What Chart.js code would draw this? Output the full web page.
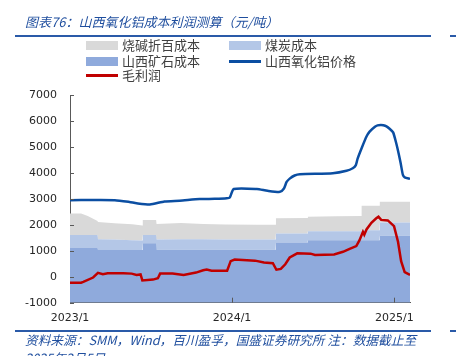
<!DOCTYPE html>
<html><head><meta charset="utf-8">
<script src="https://cdn.jsdelivr.net/npm/chart.js@4.4.1/dist/chart.umd.min.js"></script>
<style>
html,body{margin:0;padding:0;background:#fff;width:456px;height:356px;overflow:hidden;}
#wrap{position:relative;width:456px;height:356px;}
#c{position:absolute;left:0;top:0;}
.t{position:absolute;font-family:"Noto Sans CJK SC","Noto Sans",sans-serif;white-space:nowrap;line-height:16px;}
.title{left:25px;top:14px;font-size:13px;color:#1f4e9e;font-style:italic;}
.src{left:25px;font-size:12.7px;color:#1f4e9e;font-style:italic;}
.rule{position:absolute;height:2px;background:#2a5aa8;}
.lg{font-size:13px;color:#404040;}
.sw{position:absolute;width:32px;}
</style></head>
<body><div id="wrap">
<canvas id="c" width="456" height="356"></canvas>
<div class="t title">图表76：山西氧化铝成本利润测算（元/吨）</div>
<div class="rule" style="left:15px;top:35px;width:416px;"></div>
<div class="rule" style="left:450px;top:35px;width:6px;"></div>

<div class="sw" style="left:86px;top:41px;height:9px;background:#d9d9d9;"></div>
<div class="t lg" style="left:122px;top:37px;">烧碱折百成本</div>
<div class="sw" style="left:229px;top:41px;height:9px;background:#b4c7e7;"></div>
<div class="t lg" style="left:265px;top:37px;">煤炭成本</div>
<div class="sw" style="left:86px;top:56.5px;height:9px;background:#8faadc;"></div>
<div class="t lg" style="left:122px;top:52.5px;">山西矿石成本</div>
<div class="sw" style="left:229px;top:59.5px;height:3px;background:#0b4ea2;"></div>
<div class="t lg" style="left:265px;top:52.5px;">山西氧化铝价格</div>
<div class="sw" style="left:86px;top:74px;height:3px;background:#c00000;"></div>
<div class="t lg" style="left:122px;top:67px;">毛利润</div>

<div class="rule" style="left:15px;top:330px;width:416px;"></div>
<div class="rule" style="left:450px;top:330px;width:6px;"></div>
<div class="t src" style="top:332px;">资料来源：SMM，Wind，百川盈孚，国盛证券研究所 注：数据截止至</div>
<div class="t src" style="top:350px;">2025年2月5日</div>
</div>
<script>
// x values: days since 2023-01-01
const xTickDays = [0, 365, 731];
const xTickLabels = ['2023/1', '2024/1', '2025/1'];
const yTicks = [-1000, 0, 1000, 2000, 3000, 4000, 5000, 6000, 7000];

const priceDays = [0,101,134,150,180,213,247,292,326,353,360,369,421,445,473,482,488,495,506,518,592,623,637,644,648,657,668,675,687,693,700,706,713,720,728,735,741,745,750,754,766];
const priceVals = [2950,2950,2880,2830,2780,2900,2930,2990,3000,3020,3050,3380,3380,3310,3270,3400,3650,3780,3900,3950,3985,4080,4180,4300,4550,4950,5400,5590,5780,5830,5845,5835,5790,5700,5560,5140,4700,4370,3920,3830,3770];

const profitDays = [0,25,30,52,63,74,85,120,139,150,159,163,187,198,203,231,256,284,300,308,319,354,362,371,417,437,457,465,475,485,495,512,542,552,595,615,630,645,652,660,663,668,679,690,695,701,716,730,739,746,754,766];
const profitVals = [-230,-230,-200,-30,150,95,130,135,120,65,90,-140,-110,-60,120,120,70,160,250,280,230,230,600,660,620,550,520,270,300,480,740,900,890,840,860,960,1070,1180,1400,1730,1620,1820,2080,2250,2310,2190,2170,1950,1350,600,180,70];

const costDays = [0,25,40,62,63,100,140,163,164,194,195,250,300,350,420,463,464,535,536,600,656,657,697,698,766];
const oreCost = [1110,1110,1110,1110,1030,1030,1030,1030,1290,1290,1040,1040,1040,1040,1040,1040,1320,1320,1410,1410,1410,1410,1410,1575,1575];
const coalCost = [498,498,498,498,410,400,380,370,318,318,390,400,400,390,390,390,350,350,340,340,340,380,380,515,515];
const causticCost = [832,832,732,542,670,630,610,570,582,582,600,630,590,580,570,570,580,590,560,580,590,940,940,800,800];

const pts = (xs, ys) => xs.map((x, i) => ({x: x, y: ys[i]}));

const tickPlugin = {
  id: 'innerTicks',
  afterDraw(chart) {
    const ctx = chart.ctx, a = chart.chartArea, xs = chart.scales.x, ys = chart.scales.y;
    ctx.save();
    ctx.strokeStyle = '#595959';
    ctx.lineWidth = 1;
    ctx.beginPath();
    yTicks.forEach(v => {
      const py = Math.round(ys.getPixelForValue(v)) + 0.5;
      ctx.moveTo(a.left, py); ctx.lineTo(a.left + 4, py);
    });
    xTickDays.slice(1).forEach(d => {
      const px = Math.round(xs.getPixelForValue(d)) + 0.5;
      ctx.moveTo(px, a.bottom); ctx.lineTo(px, a.bottom - 5);
    });
    ctx.stroke();
    ctx.restore();
  }
};

const font = {family: 'DejaVu Sans', size: 11};
new Chart(document.getElementById('c'), {
  type: 'line',
  data: {
    datasets: [
      {label: '山西矿石成本', data: pts(costDays, oreCost), backgroundColor: '#8faadc', borderWidth: 0, pointRadius: 0, fill: 'start', stack: 'cost', order: 2},
      {label: '煤炭成本', data: pts(costDays, coalCost), backgroundColor: '#b4c7e7', borderWidth: 0, pointRadius: 0, fill: '-1', stack: 'cost', order: 2},
      {label: '烧碱折百成本', data: pts(costDays, causticCost), backgroundColor: '#d9d9d9', borderWidth: 0, pointRadius: 0, fill: '-1', stack: 'cost', order: 2},
      {label: '山西氧化铝价格', data: pts(priceDays, priceVals), borderColor: '#0b4ea2', borderWidth: 2.5, pointRadius: 0, fill: false, stack: 'price', order: 1, tension: 0.2},
      {label: '毛利润', data: pts(profitDays, profitVals), borderColor: '#c00000', borderWidth: 2.5, pointRadius: 0, fill: false, stack: 'profit', order: 0}
    ]
  },
  options: {
    responsive: false,
    animation: false,
    layout: {padding: {top: 95, right: 46, left: 0, bottom: 0}},
    plugins: {legend: {display: false}, tooltip: {enabled: false}, filler: {propagate: false}},
    scales: {
      x: {
        type: 'linear', min: 0, max: 766,
        grid: {drawOnChartArea: false, drawTicks: false},
        border: {display: true, color: '#595959', width: 1},
        afterBuildTicks: s => { s.ticks = xTickDays.map(v => ({value: v})); },
        afterFit: s => { s.height = 53.3; },
        ticks: {font: font, color: '#262626', padding: 9, maxRotation: 0, autoSkip: false,
          callback: v => xTickLabels[xTickDays.indexOf(v)] || ''}
      },
      y: {
        stacked: true, min: -1000, max: 7000,
        grid: {drawOnChartArea: false, drawTicks: false},
        border: {display: true, color: '#595959', width: 1},
        afterBuildTicks: s => { s.ticks = yTicks.map(v => ({value: v})); },
        afterFit: s => { s.width = 70; },
        ticks: {font: font, color: '#262626', padding: 13, callback: v => String(v)}
      }
    }
  },
  plugins: [tickPlugin]
});
</script>
</body></html>
